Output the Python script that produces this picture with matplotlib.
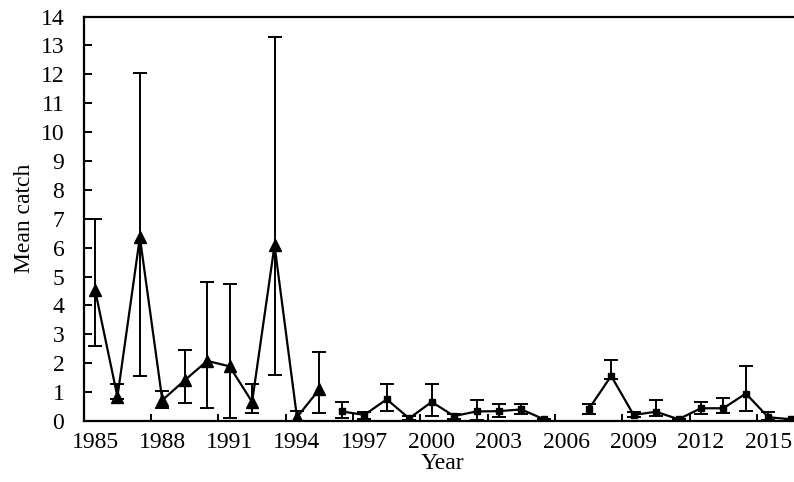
import numpy as np
import matplotlib.pyplot as plt

years = list(range(1985, 2017))

# Early survey (triangles), 1985-1995
mean_a = [4.55, 0.84, 6.36, 0.72, 1.41, 2.08, 1.89, 0.66, 6.08, 0.13, 1.10]
upper_a = [7.0, 1.27, 12.05, 1.05, 2.45, 4.80, 4.73, 1.27, 13.3, 0.35, 2.38]
lower_a = [2.6, 0.75, 1.56, 0.46, 0.61, 0.45, 0.11, 0.27, 1.58, 0.0, 0.26]

# Later survey (squares), 1996-2016, no data for 2006
mean_b = [0.33, 0.21, 0.75, 0.09, 0.66, 0.17, 0.33, 0.34, 0.40, 0.06, np.nan,
          0.41, 1.56, 0.21, 0.32, 0.06, 0.44, 0.44, 0.95, 0.13, 0.06]
upper_b = [0.65, 0.32, 1.27, 0.17, 1.27, 0.24, 0.72, 0.58, 0.58, 0.08, np.nan,
           0.58, 2.10, 0.32, 0.72, 0.08, 0.64, 0.78, 1.89, 0.32, 0.08]
lower_b = [0.11, 0.06, 0.34, 0.03, 0.17, 0.06, 0.04, 0.13, 0.24, 0.04, np.nan,
           0.24, 1.47, 0.13, 0.17, 0.04, 0.24, 0.26, 0.35, 0.03, 0.04]

plt.rcParams['font.family'] = ['Liberation Serif', 'DejaVu Serif']

fig = plt.figure(figsize=(7.94, 4.82), dpi=100)
ax = fig.add_axes([0.1055, 0.1266, 0.9045, 0.839])

xa = np.arange(len(mean_a))
xb = np.arange(len(mean_a), len(years))

ma, ua, la = map(np.array, (mean_a, upper_a, lower_a))
mb, ub, lb = map(np.array, (mean_b, upper_b, lower_b))

ax.errorbar(xa, ma, yerr=[ma - la, ua - ma], color='black', lw=1.6,
            marker='^', ms=8, elinewidth=1.4, capsize=5, capthick=1.4)
ax.errorbar(xb, mb, yerr=[mb - lb, ub - mb], color='black', lw=1.6,
            marker='s', ms=4.5, elinewidth=1.4, capsize=5, capthick=1.4)

ax.set_xlim(-0.5, len(years) - 0.5)
ax.set_ylim(0, 14)
ax.set_yticks(range(0, 15))

# labels at category centres, tick marks between categories
ax.set_xticks(np.arange(0, len(years), 3))
ax.set_xticklabels([str(y) for y in years[::3]])
ax.set_xticks(np.arange(-0.5, len(years), 3), minor=True)
ax.tick_params(axis='x', which='major', length=0, pad=8, labelsize=17)
ax.tick_params(axis='x', which='minor', direction='in', length=5, width=1.4)
ax.tick_params(axis='y', direction='in', length=6, width=1.4, pad=14, labelsize=17)

for s in ax.spines.values():
    s.set_linewidth(1.6)

ax.set_xlabel('Year', fontsize=17, labelpad=0)
ax.set_ylabel('Mean catch', fontsize=17, labelpad=4)

plt.savefig('out.png', dpi=100)
